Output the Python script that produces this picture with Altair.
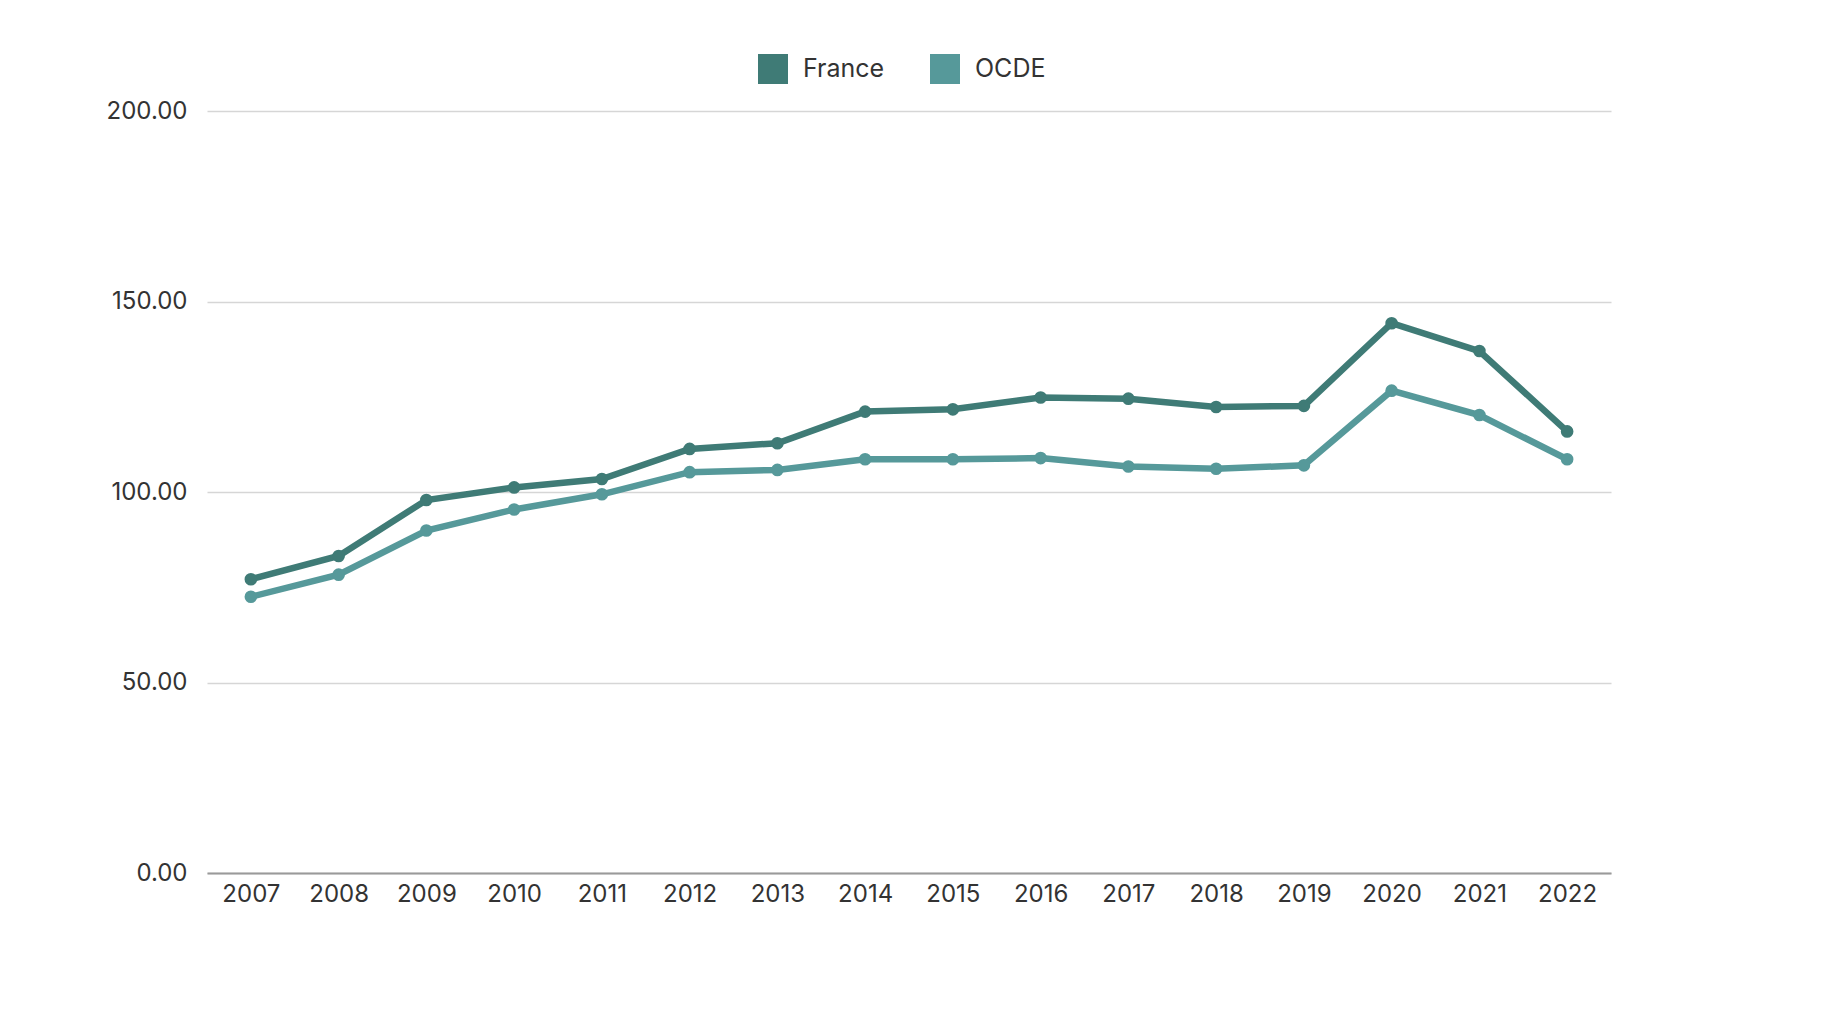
import altair as alt
import pandas as pd

years = [str(y) for y in range(2007, 2023)]
france = [77.1, 83.2, 97.9, 101.2, 103.4, 111.3, 112.8, 121.1, 121.7, 124.8, 124.5, 122.3, 122.6, 144.3, 137.0, 115.9]
ocde = [72.5, 78.3, 89.9, 95.4, 99.4, 105.2, 105.8, 108.6, 108.6, 108.9, 106.7, 106.1, 107.0, 126.6, 120.2, 108.6]
series = ["France", "OCDE"]
colors = ["#3f7b76", "#56999a"]
y_ticks = [0, 50, 100, 150, 200]

rows = []
for name, vals in zip(series, [france, ocde]):
    for yr, v in zip(years, vals):
        rows.append({"Année": yr, "Valeur": v, "Série": name})
df = pd.DataFrame(rows)

FONT = "Inter"

x = alt.X("Année:N", sort=years,
          scale=alt.Scale(type="point", padding=0.5),
          axis=alt.Axis(title=None, labelAngle=0, ticks=False, labelPadding=9,
                        labelFontSize=24, labelColor="#333333", labelFont=FONT,
                        domainColor="#9a9a9a", domainWidth=2, grid=False))
y = alt.Y("Valeur:Q", scale=alt.Scale(domain=[0, 200], nice=False),
          axis=alt.Axis(title=None, values=y_ticks, format=".2f", ticks=False,
                        labelPadding=20, labelFontSize=24, labelColor="#333333",
                        labelFont=FONT, domain=False, gridColor="#d6d6d6",
                        gridWidth=1.5))
color = alt.Color("Série:N", scale=alt.Scale(domain=series, range=colors),
                  legend=alt.Legend(title=None, orient="none", direction="horizontal",
                                    legendX=551, legendY=-57, symbolType="square",
                                    symbolSize=900, symbolStrokeWidth=0,
                                    labelFontSize=25, labelFont=FONT,
                                    labelColor="#333333", columnPadding=45,
                                    labelOffset=15, symbolOpacity=1))

base = alt.Chart(df).encode(x=x, y=y, color=color)
lines = base.mark_line(strokeWidth=6.5)
points = base.mark_circle(size=160, opacity=1)

chart = (lines + points).properties(
    width=1404, height=762,
    autosize=alt.AutoSizeParams(type="none"),
    padding={"left": 199, "top": 103, "right": 200, "bottom": 140},
).configure(font=FONT, background="white").configure_view(stroke="transparent", strokeWidth=0)

chart.save("out.html", embed_options={"renderer": "svg", "actions": False})
